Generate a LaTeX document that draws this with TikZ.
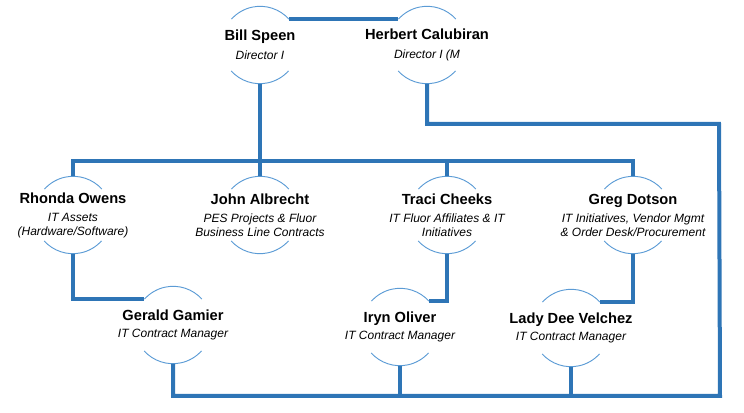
\documentclass[tikz,border=0pt]{standalone}
\usepackage{fontspec}
\setmainfont{Liberation Sans}
\definecolor{linkblue}{RGB}{46,117,182}
\definecolor{ringblue}{RGB}{91,155,213}
\tikzset{
  ring/.style={circle,minimum size=57.75pt,inner sep=0pt,draw=none},
  ringarc/.style={draw=ringblue,line width=0.7pt},
  link/.style={draw=linkblue,line width=3pt},
  txt/.style={align=center,inner sep=0pt,font=\fontsize{9}{10}\selectfont\itshape}
}
\newcommand{\pname}[1]{{\fontsize{11}{14}\selectfont\upshape\bfseries #1}}
\begin{document}
\begin{tikzpicture}[x=0.75pt,y=-0.75pt]
\useasboundingbox (0,0) rectangle (744,413);

% circles
\node[ring] (bill) at (260,45) {};
\node[ring] (herbert) at (427,45) {};
\node[ring] (rhonda) at (73,215) {};
\node[ring] (john) at (260,215) {};
\node[ring] (traci) at (447,215) {};
\node[ring] (greg) at (633,215) {};
\node[ring] (gerald) at (173,325) {};
\node[ring] (iryn) at (400,327) {};
\node[ring] (lady) at (571,328) {};

\foreach \p in {bill,herbert,rhonda,john,traci,greg,gerald,iryn,lady} {
  \draw[ringarc] (\p.42) arc[start angle=42,end angle=138,radius=28.9pt];
  \draw[ringarc] (\p.222) arc[start angle=222,end angle=318,radius=28.9pt];
}

% names
\node[txt] (billtxt) at (bill) {\pname{Bill Speen}\\[4pt]Director I};
\node[txt] (herberttxt) at (herbert) {\pname{Herbert Calubiran}\\[4pt]Director I (M};
\node[txt] (rhondatxt) at (rhonda) {\pname{Rhonda Owens}\\[4pt]IT Assets\\(Hardware/Software)};
\node[txt] (johntxt) at (john) {\pname{John Albrecht}\\[4pt]PES Projects \& Fluor\\Business Line Contracts};
\node[txt] (tracitxt) at (traci) {\pname{Traci Cheeks}\\[4pt]IT Fluor Affiliates \& IT\\Initiatives};
\node[txt] (gregtxt) at (greg) {\pname{Greg Dotson}\\[4pt]IT Initiatives, Vendor Mgmt\\\& Order Desk/Procurement};
\node[txt] (geraldtxt) at (gerald) {\pname{Gerald Gamier}\\[3pt]IT Contract Manager};
\node[txt] (iryntxt) at (iryn) {\pname{Iryn Oliver}\\[3pt]IT Contract Manager};
\node[txt] (ladytxt) at (lady) {\pname{Lady Dee Velchez}\\[3pt]IT Contract Manager};

% lines
\coordinate (bus) at (260,161);
\coordinate (rtop) at (719,124);
\coordinate (rbot) at (720,396);

\draw[link] (bill.42) -- (herbert.138);
\draw[link] (bill.south) -- (john.north);
\draw[link] (rhonda.north) |- (bus) -| (greg.north);
\draw[link] (traci.north) -- (traci.north |- bus);
\draw[link] (rhonda.south) |- (gerald.138);
\draw[link] (traci.south) |- (iryn.42);
\draw[link] (greg.south) |- (lady.42);
\draw[link] (herbert.south) |- (rtop) -- (rbot) -| (gerald.south);
\draw[link] (iryn.south) -- (iryn.south |- rbot);
\draw[link] (lady.south) -- (lady.south |- rbot);
\end{tikzpicture}
\end{document}
